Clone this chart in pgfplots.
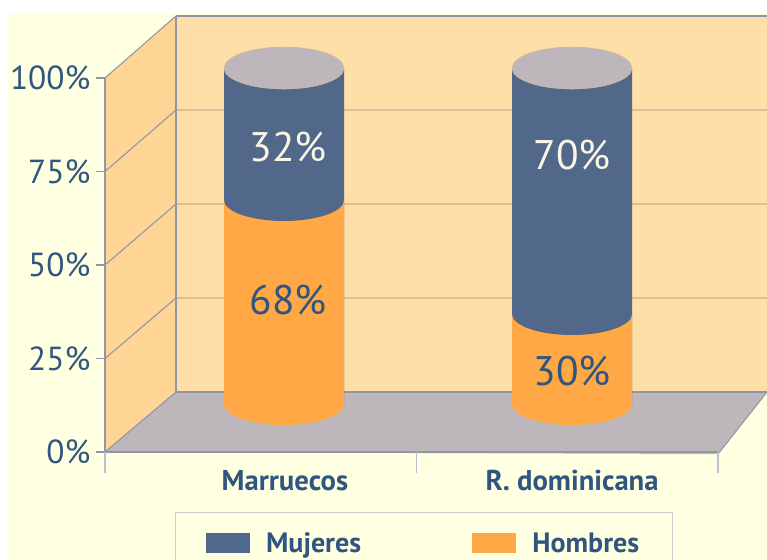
\documentclass[border=0pt]{standalone}
\usepackage{fontspec}
\setmainfont{PT Sans}
\usepackage{pgfplots}
\usepackage{pgfplotstable}
\pgfplotsset{compat=1.18}

\definecolor{fondo}{HTML}{FFFFE2}
\definecolor{pared}{HTML}{FFDFA8}
\definecolor{lado}{HTML}{FFD596}
\definecolor{suelo}{HTML}{BDB6BA}
\definecolor{azul}{HTML}{52688A}
\definecolor{naranja}{HTML}{FFA845}
\definecolor{linea}{HTML}{8F96A8}
\definecolor{rejilla}{HTML}{DDBE96}
\definecolor{texto}{HTML}{2F5580}
\definecolor{crema}{HTML}{FBF6E4}

% pos hombres mujeres
\pgfplotstableread{
pos hombres mujeres
0   68      32
1   30      70
}\datos

\begin{document}
\begin{tikzpicture}
\path[use as bounding box] (0,0) rectangle (575.25pt,-420pt);
% everything outside the axes in pixels of the reference
\begin{scope}[x=0.75pt,y=-0.75pt]
  \fill[white] (0,0) rectangle (767,560);
  \fill[fondo] (8,14) rectangle (767,560);
  % walls and floor
  \fill[pared] (176,16) rectangle (767,392);
  \fill[lado] (105,78) -- (176,16) -- (176,392) -- (105,452) -- cycle;
  \fill[suelo] (176,392) -- (767,392) -- (718,454) -- (105,452) -- cycle;
  % grid
  \draw[linea,line width=0.9pt] (176,16) -- (767,16);
  \draw[rejilla,line width=1.5pt] (176,110) -- (767,110) (176,204) -- (767,204) (176,298) -- (767,298);
  \draw[linea,line width=1.3pt] (176,392) -- (767,392);
  \draw[linea,line width=0.8pt] (105,78) -- (176,16) (105,171.5) -- (176,110)
    (105,265) -- (176,204) (105,358.5) -- (176,298) (105,452) -- (176,392);
  \draw[linea,line width=0.9pt] (176,16) -- (176,392);
  \draw[linea,line width=0.8pt] (718,454) -- (767,392);
  \coordinate (frente) at (105,452);
  \coordinate (cilindros) at (140,404);
\end{scope}

% front plane: the scale and the categories
% labels sit under the cylinders, not under the middle of the front cells
\begin{axis}[
  at={(frente)}, anchor=south west,
  scale only axis, width=459.75pt, height=280.5pt,
  xmin=-0.5, xmax=1.5, ymin=0, ymax=100,
  axis x line*=bottom, axis y line*=left,
  axis line style={draw=linea,line width=0.8pt},
  xtick={0.087,1.024}, xticklabels={Marruecos,R. dominicana},
  ytick={0,25,50,75,100},
  yticklabel={\pgfmathprintnumber{\tick}\%},
  /pgf/number format/assume math mode=true,
  tick align=outside,
  xtick style={draw=none},
  ytick style={draw=linea,line width=0.8pt},
  major tick length=7pt,
  extra x ticks={-0.5,0.515,1.5},
  extra x tick labels={},
  extra x tick style={xtick style={draw=linea!60,line width=0.8pt},major tick length=16pt},
  y tick label style={font=\fontsize{25}{25}\selectfont,text=texto,xshift=-0.5pt},
  x tick label style={font=\bfseries\fontsize{21.5}{21.5}\selectfont,text=texto,yshift=-3pt},
]
\end{axis}

% cylinders; the reference's own segments are not to one scale, 68% ends where
% 68 of 100 would not, so the height scale has a knee there
\begin{axis}[
  at={(cilindros)}, anchor=south west,
  scale only axis, width=432pt, height=252pt,
  xmin=-0.5, xmax=1.5, ymin=0, ymax=100,
  hide axis, clip=false,
  y coord trafo/.code={\pgfmathparse{#1<=68 ? 3*#1 : 204+(#1-68)*4.125}},
  ybar, bar width=90pt, bar shift=0pt,
  legend style={
    at={(0.0605,-0.3214)}, anchor=north west,
    legend columns=2,
    draw=linea!50, line width=0.8pt, fill=fondo,
    inner xsep=23pt, inner ysep=13pt,
    font=\bfseries\fontsize{21}{21}\selectfont, text=texto,
    /tikz/column 1/.style={column sep=10pt},
    /tikz/column 2/.style={column sep=81.5pt},
    /tikz/column 3/.style={column sep=10pt},
  },
  legend image code/.code={\fill[#1] (0pt,-7pt) rectangle (33pt,8pt);},
]
\addplot[fill=azul,draw=none] table[x=pos,y expr=\thisrow{hombres}+\thisrow{mujeres}]{\datos};
\addplot[fill=naranja,draw=none] table[x=pos,y=hombres]{\datos};
\legend{Mujeres,Hombres}
% caps
\fill[naranja] (axis cs:0,0) ellipse [x radius=45pt,y radius=15.75pt];
\fill[naranja] (axis cs:1,0) ellipse [x radius=45pt,y radius=15.75pt];
\fill[azul] (axis cs:0,68) ellipse [x radius=45pt,y radius=15.75pt];
\fill[azul] (axis cs:1,30) ellipse [x radius=45pt,y radius=15.75pt];
\filldraw[fill=suelo,draw=rejilla,line width=0.4pt] (axis cs:0,100) ellipse [x radius=45pt,y radius=15.75pt];
\filldraw[fill=suelo,draw=rejilla,line width=0.4pt] (axis cs:1,100) ellipse [x radius=45pt,y radius=15.75pt];
\end{axis}

\begin{scope}[x=0.75pt,y=-0.75pt,font=\fontsize{31}{31}\selectfont]
  \node[text=crema] at (288,147) {32\%};
  \node[text=texto] at (288,300) {68\%};
  \node[text=crema] at (572,155) {70\%};
  \node[text=texto] at (572,371) {30\%};
\end{scope}
\end{tikzpicture}
\end{document}
